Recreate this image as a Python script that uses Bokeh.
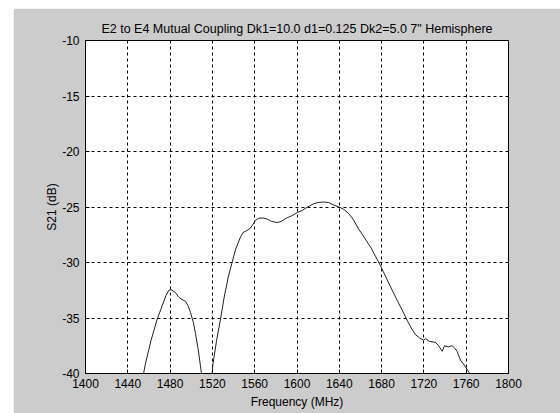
from bokeh.plotting import figure
from bokeh.models import FixedTicker, Title, PrintfTickFormatter
from bokeh.embed import file_html
from bokeh.resources import INLINE

# ---- data ----
title_text = 'E2 to E4 Mutual Coupling Dk1=10.0 d1=0.125 Dk2=5.0 7" Hemisphere'
x_label = "Frequency (MHz)"
y_label = "S21 (dB)"
x_ticks = [1400, 1440, 1480, 1520, 1560, 1600, 1640, 1680, 1720, 1760, 1800]
y_ticks = [-40, -35, -30, -25, -20, -15, -10]

freq = [1450, 1456.5, 1462, 1467.8, 1472.5, 1476, 1478.8, 1481, 1485, 1488,
        1491.4, 1494.6, 1497, 1499.3, 1502, 1504, 1506.5, 1508.7, 1511, 1515,
        1519, 1520.3, 1524, 1527.7, 1531, 1535, 1538.6, 1542, 1546.6, 1549,
        1552.9, 1556, 1560.8, 1564, 1568.6, 1572, 1576, 1581.3, 1585, 1590,
        1595, 1600.2, 1605, 1610, 1615.9, 1620, 1625, 1630, 1634, 1639.6,
        1644, 1649, 1653, 1658.4, 1662, 1666, 1669.5, 1674, 1679, 1684,
        1689, 1694.7, 1699, 1704.1, 1708, 1712, 1716, 1719.9, 1721.5, 1725,
        1731, 1734, 1737.3, 1739.5, 1743, 1746.7, 1749, 1751.4, 1754.6, 1757,
        1759.3, 1762, 1764, 1768]
s21 = [-42.5, -39.2, -37.0, -35.1, -33.9, -33.0, -32.5, -32.45, -32.7, -33.1,
       -33.35, -33.5, -33.9, -34.5, -35.4, -36.4, -37.8, -39.3, -41.0, -46.0,
       -41.5, -39.3, -37.0, -35.1, -33.2, -31.3, -30.0, -28.8, -27.7, -27.3,
       -27.1, -26.9, -26.2, -26.0, -26.0, -26.1, -26.3, -26.4, -26.3, -26.0,
       -25.8, -25.5, -25.3, -25.0, -24.7, -24.6, -24.55, -24.6, -24.8, -25.0,
       -25.2, -25.6, -26.1, -27.0, -27.5, -28.1, -28.6, -29.4, -30.3, -31.3,
       -32.3, -33.4, -34.2, -35.2, -35.9, -36.5, -36.8, -37.0, -36.85, -37.1,
       -37.2, -37.5, -38.0, -37.5, -37.6, -37.5, -37.7, -38.0, -38.8, -39.1,
       -39.4, -39.8, -40.1, -41.0]

FONT = "Liberation Sans"
GRAY = "#cccccc"

p = figure(frame_width=423, frame_height=333,
           x_range=(1400, 1800), y_range=(-40, -10),
           output_backend="svg", toolbar_location=None,
           min_border_left=72, min_border_right=52,
           min_border_top=32, min_border_bottom=40,
           border_fill_color=GRAY, background_fill_color="white",
           outline_line_color="black", outline_line_width=1)
p.margin = (8, 0, 0, 13)

t = Title(text=title_text, align="center", text_font=FONT,
          text_font_size="12.5px", text_font_style="normal",
          text_color="black", standoff=9)
p.add_layout(t, "above")

p.line(freq, s21, line_color="#222222", line_width=1)

for ax in (p.xaxis[0], p.yaxis[0]):
    ax.major_tick_in = 4
    ax.major_tick_out = 0
    ax.minor_tick_in = 0
    ax.minor_tick_out = 0
    ax.axis_line_color = "black"
    ax.major_tick_line_color = "black"
    ax.major_label_text_font = FONT
    ax.major_label_text_font_size = "12px"
    ax.major_label_text_color = "black"
    ax.axis_label_text_font = FONT
    ax.axis_label_text_font_size = "12px"
    ax.axis_label_text_font_style = "normal"
    ax.axis_label_text_color = "black"
    ax.formatter = PrintfTickFormatter(format="%d")

p.xaxis[0].ticker = FixedTicker(ticks=x_ticks)
p.yaxis[0].ticker = FixedTicker(ticks=y_ticks)
p.xaxis[0].axis_label = x_label
p.yaxis[0].axis_label = y_label
p.xaxis[0].major_label_standoff = 5
p.xaxis[0].axis_label_standoff = 4
p.yaxis[0].major_label_standoff = 6
p.yaxis[0].axis_label_standoff = 0

for g in (p.xgrid[0], p.ygrid[0]):
    g.grid_line_color = "black"
    g.grid_line_dash = "3 3"
    g.grid_line_width = 1
p.xgrid[0].ticker = FixedTicker(ticks=x_ticks)
p.ygrid[0].ticker = FixedTicker(ticks=y_ticks)

open("out.html", "w").write(file_html(p, INLINE))
